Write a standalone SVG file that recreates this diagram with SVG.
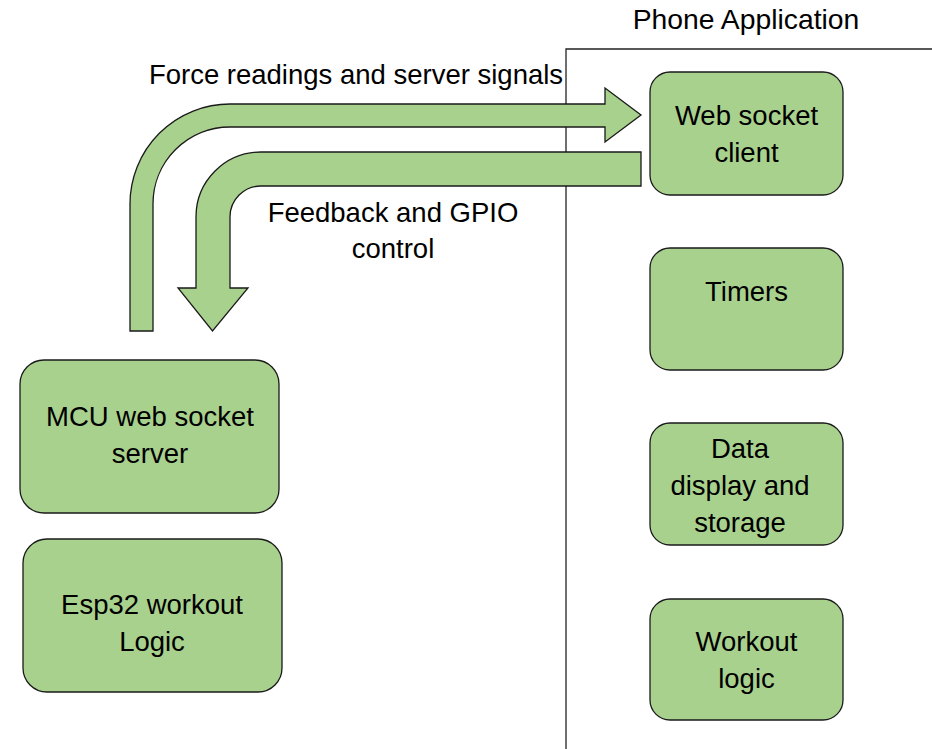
<svg xmlns="http://www.w3.org/2000/svg" width="932" height="749" viewBox="0 0 932 749">
<style>
.box{fill:#A9D18E;stroke:#1a1a1a;stroke-width:1.3}
.arr{fill:#A9D18E;stroke:#1a1a1a;stroke-width:1.3;stroke-linejoin:miter}
.t{font-family:"Liberation Sans",Arial,sans-serif;font-size:27.5px;fill:#000;text-anchor:middle}
.line{stroke:#222;stroke-width:1.3;fill:none}
</style>
<rect width="932" height="749" fill="#fff"/>
<g id="divider">
<path class="line" d="M566,749 V49 H932"/>
<text class="t" x="746" y="29" style="font-size:28.3px">Phone Application</text>
</g>
<g id="connectors">
<path id="arrow-force" class="arr" d="M130,331 V204 A100,100 0 0 1 230,104 H605 V88 L641,115 L605,142 V127 H230 A77,77 0 0 0 153,204 V331 Z"/>
<text class="t" x="356" y="84">Force readings and server signals</text>
<path id="arrow-feedback" class="arr" d="M641,152 H261 A65,65 0 0 0 196,217 V288 H178 L212.5,331 L248,288 H230 V217 A31,31 0 0 1 261,186 H641 Z"/>
<text class="t" x="393" y="222">Feedback and GPIO</text>
<text class="t" x="393" y="258">control</text>
</g>
<g id="mcu-server">
<rect class="box" x="20" y="360" width="259" height="153" rx="24"/>
<text class="t" x="150" y="426">MCU web socket</text>
<text class="t" x="150" y="463">server</text>
</g>
<g id="esp32-logic">
<rect class="box" x="23" y="539" width="259" height="153" rx="24"/>
<text class="t" x="152" y="614">Esp32 workout</text>
<text class="t" x="152" y="651">Logic</text>
</g>
<g id="ws-client">
<rect class="box" x="650" y="72" width="193" height="123" rx="20"/>
<text class="t" x="746.5" y="125">Web socket</text>
<text class="t" x="746.5" y="162">client</text>
</g>
<g id="timers">
<rect class="box" x="650" y="248" width="193" height="122" rx="20"/>
<text class="t" x="746.5" y="301">Timers</text>
</g>
<g id="data-display">
<rect class="box" x="650" y="423" width="193" height="122" rx="20"/>
<text class="t" x="740" y="458">Data</text>
<text class="t" x="740" y="495">display and</text>
<text class="t" x="740" y="532">storage</text>
</g>
<g id="workout-logic">
<rect class="box" x="650" y="599" width="193" height="121" rx="20"/>
<text class="t" x="746.5" y="651">Workout</text>
<text class="t" x="746.5" y="688">logic</text>
</g>
</svg>
